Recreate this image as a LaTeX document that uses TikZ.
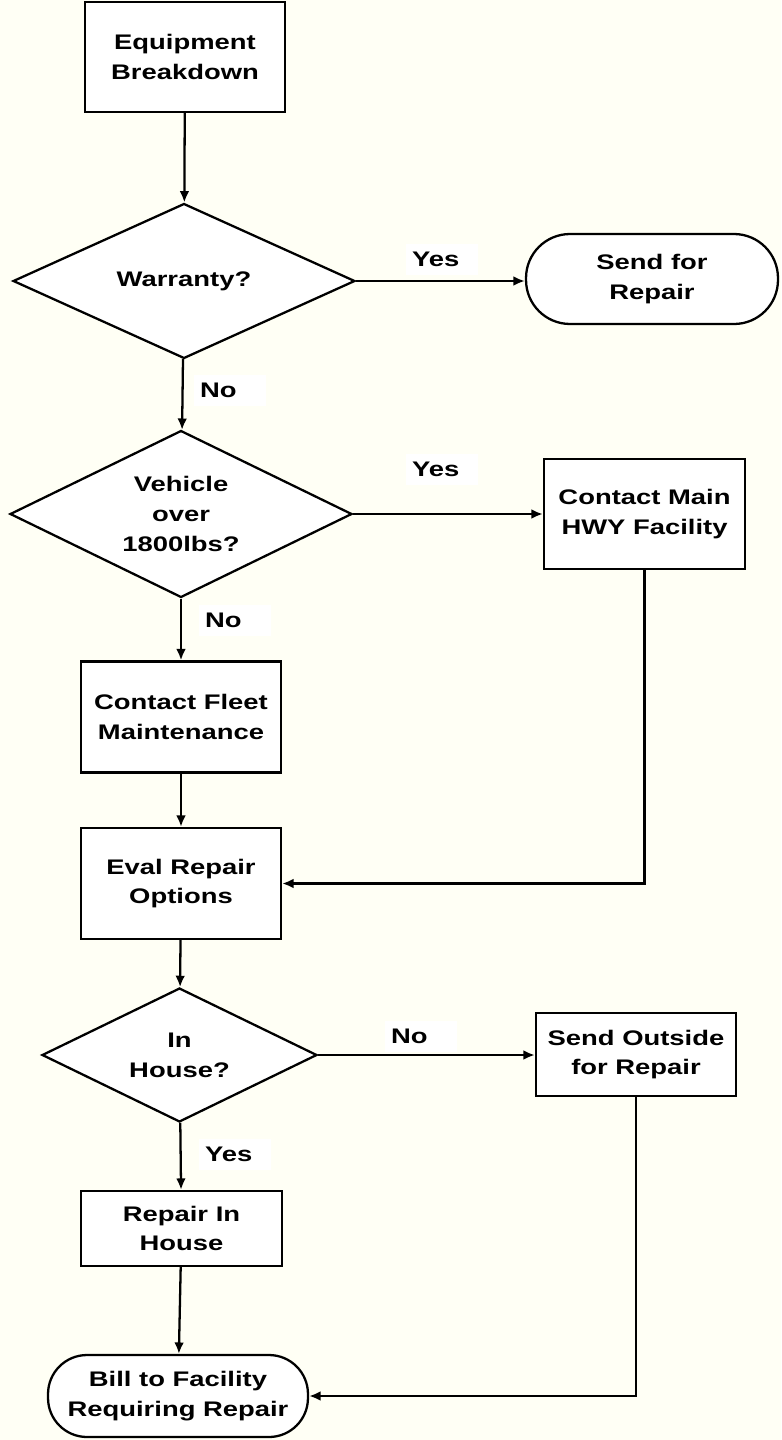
\documentclass[tikz,border=0pt]{standalone}
\usepackage{fontspec}
\setmainfont{Liberation Sans}[FakeStretch=1.3]
\usetikzlibrary{shapes.geometric,arrows.meta}
\definecolor{bgcream}{RGB}{255,255,245}
\tikzset{
	box/.style={draw, fill=white, line width=1.3pt, align=center, inner sep=0pt},
	decision/.style={diamond, aspect=2, draw, fill=white, line width=1.3pt, align=center, inner sep=0pt},
	terminal/.style={draw, fill=white, line width=1.3pt, align=center, inner sep=0pt, rounded corners=#1},
	lbl/.style={fill=white, text width=1.2cm, align=left, inner xsep=0.12cm, minimum height=0.62cm},
	flow/.style={line width=1.3pt, -{Latex[length=6.5pt,width=5.5pt]}}
}

\begin{document}
\begin{tikzpicture}[x=0.02cm, y=-0.02cm, every node/.style={font=\fontsize{12}{17}\selectfont\bfseries}]
		\fill[bgcream] (0,0) rectangle (781,1440);
		\useasboundingbox (0,0) rectangle (781,1440);

		\node[box, minimum width=4cm, minimum height=2.2cm] (start) at (185,57) {Equipment\\Breakdown};
		\node[decision, minimum width=6.84cm, minimum height=3.1cm] (warranty) at (184,281) {Warranty?};
		\node[terminal=0.88cm, minimum width=5.04cm, minimum height=1.8cm] (sendrep) at (652,279) {Send for\\Repair};

		\node[decision, minimum width=6.84cm, minimum height=3.34cm] (vehicle) at (181,514) {Vehicle\\over\\1800lbs?};
		\node[box, minimum width=4.02cm, minimum height=2.2cm] (hwy) at (644.5,514) {Contact Main\\HWY Facility};

		\node[box, minimum width=4cm, minimum height=2.22cm] (fleet) at (181,717) {Contact Fleet\\Maintenance};
		\node[box, minimum width=4cm, minimum height=2.22cm] (evalopt) at (181,883.5) {Eval Repair\\Options};

		\node[decision, minimum width=5.5cm, minimum height=2.68cm] (inhouse) at (179.5,1055) {In\\House?};
		\node[box, minimum width=4cm, minimum height=1.66cm] (outside) at (636,1054.5) {Send Outside\\for Repair};

		\node[box, minimum width=4.02cm, minimum height=1.5cm] (repin) at (181.5,1228.5) {Repair In\\House};
		\node[terminal=0.78cm, minimum width=5.2cm, minimum height=1.64cm] (bill) at (178,1396) {Bill to Facility\\Requiring Repair};

		% main column
		\draw[flow] (start) -- (warranty);
		\draw[flow] (warranty) -- (vehicle);
		\draw[flow] (vehicle) -- (fleet);
		\draw[flow] (fleet) -- (evalopt);
		\draw[flow] (evalopt) -- (inhouse);
		\draw[flow] (inhouse) -- (repin);
		\draw[flow] (repin) -- (bill);

		% side branches
		\draw[flow] (warranty.east) -- (warranty.east -| sendrep.west);
		\draw[flow] (vehicle.east) -- (vehicle.east -| hwy.west);
		\draw[flow] (inhouse.east) -- (inhouse.east -| outside.west);
		\draw[flow] (hwy.south) |- (evalopt.east);
		\draw[flow] (outside.south) |- (bill.east);

		\node[lbl] (yesA) at (442,259) {Yes};
		\node[lbl] (noA) at (230,390) {No};
		\node[lbl] (yesB) at (442,469) {Yes};
		\node[lbl] (noB) at (235,620) {No};
		\node[lbl] (noC) at (421,1036) {No};
		\node[lbl] (yesC) at (235,1154) {Yes};
	\end{tikzpicture}
\end{document}
